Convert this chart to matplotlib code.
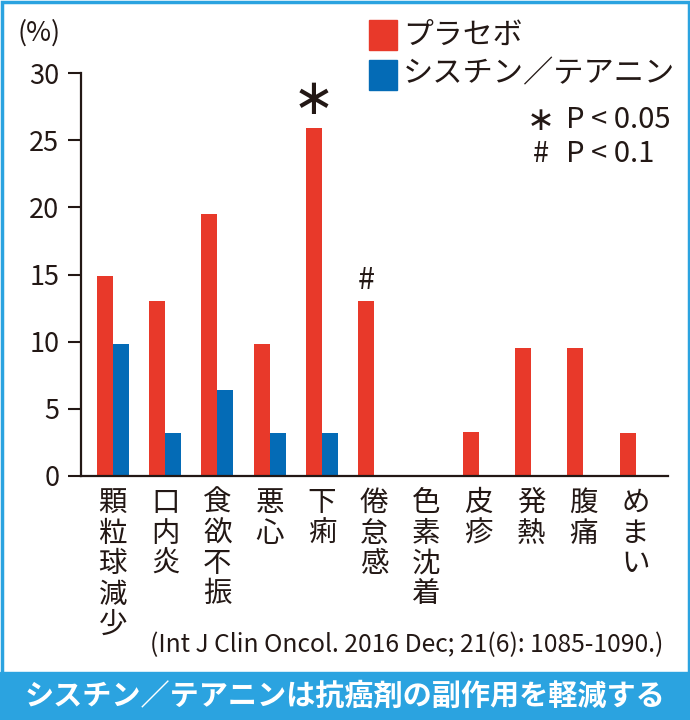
import numpy as np
import matplotlib
matplotlib.use('Agg')
import matplotlib.pyplot as plt
from matplotlib.patches import Rectangle
import matplotlib.transforms as mtransforms

plt.rcParams['font.family'] = ['Noto Sans CJK JP', 'DejaVu Sans']

########################### Data ##############################
categories = ['顆粒球減少', '口内炎', '食欲不振', '悪心', '下痢', '倦怠感',
              '色素沈着', '皮疹', '発熱', '腹痛', 'めまい']
placebo = [14.9, 13.0, 19.5, 9.8, 25.9, 13.0, 0, 3.3, 9.5, 9.5, 3.2]
cystine_theanine = [9.8, 3.2, 6.4, 3.2, 3.2, 0, 0, 0, 0, 0, 0]
yticks = [0, 5, 10, 15, 20, 25, 30]
marks = {4: '*', 5: '#'}   # significance markers over placebo bars

RED = '#e8392a'
BLUE = '#046bb6'
SKY = '#2ba3e0'
INK = '#231815'

########################### Figure ##############################
fig = plt.figure(figsize=(6.9, 7.2), dpi=100)
W, H = 690, 720
ax = fig.add_axes([81 / W, (H - 476) / H, (668 - 81) / W, (476 - 73) / H])

x = np.arange(len(categories))
w = 0.306
ax.bar(x - w / 2, placebo, w, color=RED, linewidth=0)
ax.bar(x + w / 2, cystine_theanine, w, color=BLUE, linewidth=0)

ax.set_xlim(-0.61, 10.62)
ax.set_ylim(0, 30)
ax.set_yticks(yticks)
ax.set_xticks([])
ax.tick_params(axis='y', length=9.5, width=1.5, color=INK, pad=6,
               labelsize=19.5, labelcolor=INK)
for s in ['top', 'right']:
    ax.spines[s].set_visible(False)
for s in ['left', 'bottom']:
    ax.spines[s].set_color(INK)
    ax.spines[s].set_linewidth(1.6)

# vertical category labels
trans = mtransforms.blended_transform_factory(ax.transData, ax.transAxes)
for i, c in enumerate(categories):
    ax.text(i, -0.03, '\n'.join(c), transform=trans, ha='center', va='top',
            fontsize=20.5, linespacing=1.02, color=INK)

# significance marks
for i, m in marks.items():
    if m == '*':
        ax.text(i - w / 2, placebo[i] + 0.3, '∗', ha='center', va='bottom',
                fontsize=36, color=INK, family=['DejaVu Sans'])
    else:
        ax.text(i - w / 2, placebo[i] + 0.4, m, ha='center', va='bottom',
                fontsize=22, color=INK)

########################### Texts ##############################
fig.text(17 / W, 1 - 33 / H, '(%)', fontsize=19.5, color=INK, va='center')

# legend
fig.patches.append(Rectangle((369 / W, 1 - 50 / H), 28 / W, 30 / H,
                             transform=fig.transFigure, color=RED))
fig.patches.append(Rectangle((369 / W, 1 - 90 / H), 28 / W, 30 / H,
                             transform=fig.transFigure, color=BLUE))
fig.text(403 / W, 1 - 35 / H, 'プラセボ', fontsize=21.5, color=INK, va='center')
fig.text(403 / W, 1 - 74 / H, 'シスチン／テアニン', fontsize=21.8, color=INK, va='center')
fig.text(541 / W, 1 - 120 / H, '∗', fontsize=24, color=INK, va='center',
         ha='center', family=['DejaVu Sans'])
fig.text(566 / W, 1 - 120 / H, 'P < 0.05', fontsize=21, color=INK, va='center')
fig.text(541 / W, 1 - 154 / H, '#', fontsize=21, color=INK, va='center', ha='center')
fig.text(566 / W, 1 - 154 / H, 'P < 0.1', fontsize=21, color=INK, va='center')

fig.text(663 / W, 1 - 645 / H, '(Int J Clin Oncol. 2016 Dec; 21(6): 1085-1090.)',
         fontsize=17.8, color=INK, ha='right', va='center')

# banner and frame
fig.patches.append(Rectangle((0, 0), 1, 48 / H, transform=fig.transFigure,
                             color=SKY, zorder=0))
fig.text(0.5, 24 / H, 'シスチン／テアニンは抗癌剤の副作用を軽減する',
         fontsize=21, fontweight='bold', color='white', ha='center', va='center')
fig.patches.append(Rectangle((1.5 / W, 1.5 / H), 1 - 3 / W, 1 - 3 / H,
                             transform=fig.transFigure, fill=False,
                             edgecolor=SKY, linewidth=2.5))

fig.savefig('out.png', dpi=100)
